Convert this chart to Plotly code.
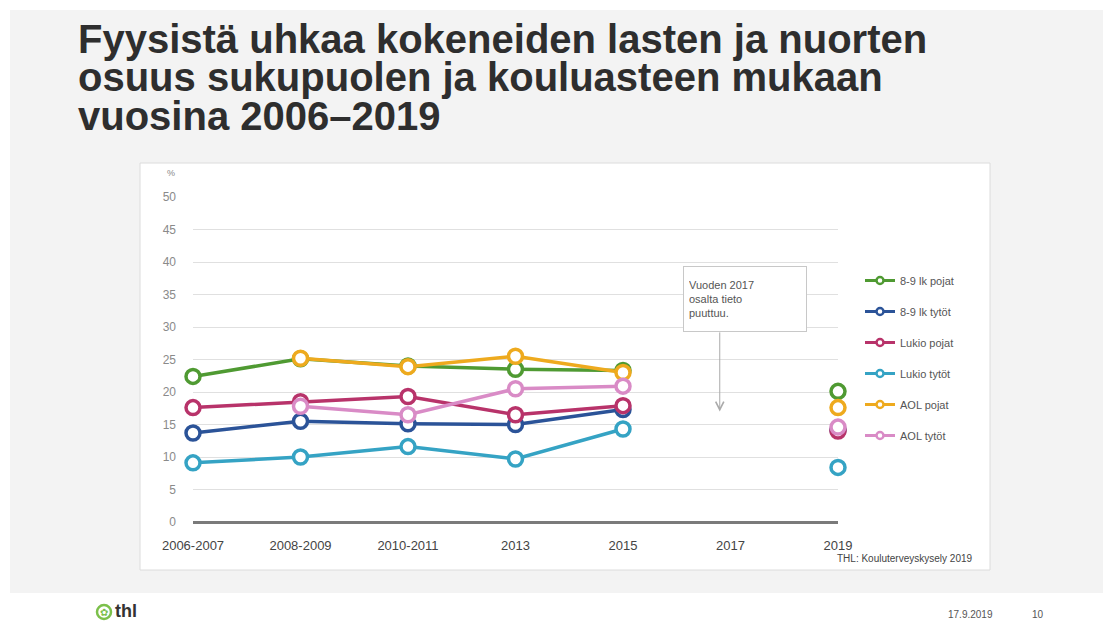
import plotly.graph_objects as go

categories = ["2006-2007", "2008-2009", "2010-2011", "2013", "2015", "2017", "2019"]
series_names = ["8-9 lk pojat", "8-9 lk tytöt", "Lukio pojat", "Lukio tytöt", "AOL pojat", "AOL tytöt"]
pojat_89 = [22.4, 25.1, 24.0, 23.5, 23.3, None, 20.1]
tytot_89 = [13.7, 15.5, 15.1, 15.0, 17.3, None, 14.2]
lukio_pojat = [17.6, 18.5, 19.3, 16.5, 17.9, None, 14.0]
lukio_tytot = [9.1, 10.0, 11.6, 9.7, 14.3, None, 8.4]
aol_pojat = [None, 25.2, 23.9, 25.5, 23.0, None, 17.6]
aol_tytot = [None, 17.8, 16.5, 20.5, 20.9, None, 14.6]
y_ticks = [0, 5, 10, 15, 20, 25, 30, 35, 40, 45, 50]

values = [pojat_89, tytot_89, lukio_pojat, lukio_tytot, aol_pojat, aol_tytot]
colors = ["#4f9a32", "#2b5398", "#b8336a", "#35a3c4", "#eeaa1e", "#d98bc6"]

OFF = 8  # page body margin
W, H = 1111 - OFF, 627 - OFF
# plot area in screen pixels
SL, SR, ST, SB = 193, 838, 197, 522
L, R, T, B = SL - OFF, SR - OFF, ST - OFF, SB - OFF


def px(x):
    return (x - SL) / (SR - SL)


def py(y):
    return (SB - y) / (SB - ST)


xs = list(range(len(categories)))
fig = go.Figure()
for name, vals, col in zip(series_names, values, colors):
    fig.add_trace(go.Scatter(
        x=xs, y=vals, mode="lines+markers", name=name, showlegend=False,
        connectgaps=False, cliponaxis=False,
        line=dict(color=col, width=3.5),
        marker=dict(symbol="circle", size=14, color="white",
                    line=dict(color=col, width=3.5)),
        hoverinfo="skip"))
for name, col in zip(series_names, colors):
    fig.add_trace(go.Scatter(
        x=[None], y=[None], mode="lines+markers", name=name, legendgroup=name,
        line=dict(color=col, width=3),
        marker=dict(symbol="circle", size=7, color="white",
                    line=dict(color=col, width=2.5))))

shapes = [
    # slide background
    dict(type="rect", xref="paper", yref="paper", x0=px(10), x1=px(1120), y0=py(593), y1=py(10),
         fillcolor="#f3f3f3", line=dict(width=0), layer="below"),
    # chart panel
    dict(type="rect", xref="paper", yref="paper", x0=px(140), x1=px(990), y0=py(570), y1=py(163),
         fillcolor="white", line=dict(color="#dcdcdc", width=1), layer="below"),
    # logo circle
    dict(type="circle", xref="paper", yref="paper", x0=px(97), x1=px(111), y0=py(619), y1=py(605),
         line=dict(color="#7cc04b", width=2.5), fillcolor="rgba(0,0,0,0)"),
]

title_lines = ["Fyysistä uhkaa kokeneiden lasten ja nuorten",
               "osuus sukupuolen ja kouluasteen mukaan",
               "vuosina 2006–2019"]
title_font = dict(family="Liberation Sans, Arial, sans-serif", size=40, color="#2e2e2e")
annotations = []
for i, t in enumerate(title_lines):
    annotations.append(dict(text="<b>%s</b>" % t, xref="paper", yref="paper",
                            x=px(76), y=py(39 + 38.3 * i), xanchor="left", yanchor="middle",
                            showarrow=False, font=title_font))

annotations += [
    dict(text="%", xref="paper", yref="paper", x=px(171), y=py(173), xanchor="center",
         yanchor="middle", showarrow=False, font=dict(family="Liberation Sans", size=9, color="#888")),
    dict(text="Vuoden 2017<br>osalta tieto<br>puuttuu.", xref="paper", yref="paper",
         x=px(745), y=py(299), xanchor="center", yanchor="middle", align="left",
         showarrow=False, width=112, height=54, borderpad=5, bgcolor="white",
         bordercolor="#c8c8c8", borderwidth=1,
         font=dict(family="Liberation Sans", size=11, color="#555")),
    dict(text="", x=4.9, y=17.0, ax=4.9, ay=29.4, axref="x", ayref="y", xref="x", yref="y",
         showarrow=True, arrowhead=5, arrowsize=1.6, arrowwidth=1, arrowcolor="#aaaaaa"),
    dict(text="THL: Kouluterveyskysely 2019", xref="paper", yref="paper", x=px(975), y=py(558),
         xanchor="right", yanchor="middle", showarrow=False,
         font=dict(family="Liberation Sans", size=10, color="#444")),
    dict(text="<b>thl</b>", xref="paper", yref="paper", x=px(113), y=py(611), xanchor="left",
         yanchor="middle", showarrow=False, font=dict(family="Liberation Sans", size=18, color="#333")),
    dict(text="✿", xref="paper", yref="paper", x=px(104), y=py(612), xanchor="center",
         yanchor="middle", showarrow=False, font=dict(family="DejaVu Sans", size=10, color="#7cc04b")),
    dict(text="17.9.2019", xref="paper", yref="paper", x=px(970), y=py(614), xanchor="center",
         yanchor="middle", showarrow=False,
         font=dict(family="Liberation Sans", size=10, color="#555")),
    dict(text="10", xref="paper", yref="paper", x=px(1038), y=py(614), xanchor="center",
         yanchor="middle", showarrow=False,
         font=dict(family="Liberation Sans", size=10, color="#555")),
]

fig.update_layout(
    width=W, height=H,
    margin=dict(l=L, r=W - R, t=T, b=H - B, pad=0),
    paper_bgcolor="white", plot_bgcolor="rgba(0,0,0,0)",
    shapes=shapes, annotations=annotations,
    legend=dict(x=px(860), y=py(266), xanchor="left", yanchor="top",
                bgcolor="rgba(0,0,0,0)", tracegroupgap=12, itemwidth=30,
                font=dict(family="Liberation Sans", size=11, color="#555")),
    xaxis=dict(range=[0, 6], tickmode="array", tickvals=xs, ticktext=categories,
               showgrid=False, zeroline=False, showline=False, ticks="",
               ticklabelstandoff=14,
               tickfont=dict(family="Liberation Sans", size=13, color="#444")),
    yaxis=dict(range=[0, 50], tickmode="array", tickvals=y_ticks,
               showgrid=True, gridcolor="#e0e0e0", gridwidth=1,
               zeroline=True, zerolinecolor="#7a7a7a", zerolinewidth=3,
               showline=False, ticks="", ticklabelstandoff=16,
               tickfont=dict(family="Liberation Sans", size=12, color="#8a8a8a")),
    showlegend=True,
)

fig.write_html("out.html")
